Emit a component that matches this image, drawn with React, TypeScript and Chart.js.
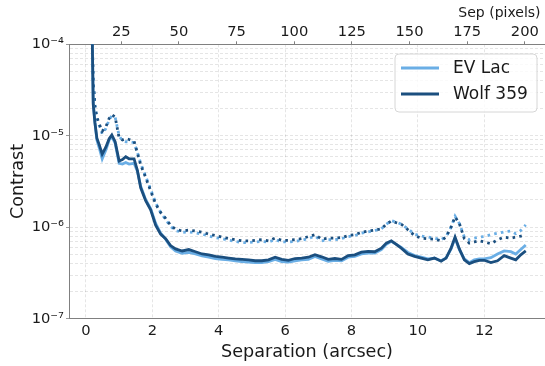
import React, { useEffect, useRef } from "react";
import { Chart, registerables } from "chart.js";

Chart.register(...registerables);

const FONT = "'DejaVu Sans', sans-serif";

// Separation (arcsec) sample positions shared by all curves
const separation = [
  0.19, 0.22, 0.27, 0.33, 0.4, 0.49, 0.6, 0.7, 0.78, 0.88, 1.0,
  1.1, 1.2, 1.3, 1.45, 1.55, 1.65, 1.8, 1.95,
  2.1, 2.25, 2.4, 2.55, 2.7, 2.9,
  3.1, 3.3, 3.5, 3.7, 3.9, 4.1, 4.3, 4.5, 4.7, 4.9, 5.1, 5.3, 5.5, 5.7, 5.9,
  6.1, 6.3, 6.5, 6.7, 6.9, 7.1, 7.3, 7.5, 7.7, 7.9, 8.1, 8.3, 8.5, 8.7, 8.9,
  9.05, 9.2, 9.35, 9.5, 9.7, 9.9,
  10.1, 10.3, 10.5, 10.7, 10.85,
  11.0, 11.12, 11.25, 11.4, 11.55, 11.7, 11.85,
  12.0, 12.2, 12.4, 12.6, 12.8, 12.95, 13.1, 13.25,
];

// EV Lac solid curve
const evLacSolid = [
  1.2e-4, 2.3e-5, 1.4e-5, 9.0e-6, 7.4e-6, 5.6e-6, 7.0e-6, 9.0e-6, 9.8e-6, 8.3e-6, 5.0e-6,
  4.9e-6, 5.1e-6, 4.9e-6, 5.0e-6, 4.1e-6, 2.8e-6, 2.0e-6, 1.6e-6,
  1.1e-6, 8.6e-7, 7.4e-7, 6.1e-7, 5.5e-7, 5.2e-7,
  5.3e-7, 5.1e-7, 4.85e-7, 4.7e-7, 4.55e-7, 4.45e-7, 4.4e-7, 4.3e-7, 4.2e-7, 4.15e-7, 4.1e-7, 4.1e-7, 4.2e-7, 4.45e-7, 4.2e-7,
  4.15e-7, 4.3e-7, 4.4e-7, 4.45e-7, 4.8e-7, 4.5e-7, 4.25e-7, 4.35e-7, 4.3e-7, 4.7e-7, 4.8e-7, 5.1e-7, 5.2e-7, 5.2e-7, 5.7e-7,
  6.5e-7, 7.0e-7, 6.5e-7, 6.0e-7, 5.3e-7, 4.9e-7,
  4.7e-7, 4.5e-7, 4.6e-7, 4.3e-7, 4.6e-7,
  5.8e-7, 7.6e-7, 5.7e-7, 4.5e-7, 4.1e-7, 4.4e-7, 4.5e-7,
  4.5e-7, 4.65e-7, 5.1e-7, 5.5e-7, 5.4e-7, 5.1e-7, 5.7e-7, 6.4e-7,
];

// Wolf 359 solid curve
const wolfSolid = [
  1.2e-4, 2.2e-5, 1.4e-5, 9.4e-6, 8.0e-6, 6.3e-6, 7.5e-6, 9.3e-6, 1.02e-5, 8.6e-6, 5.3e-6,
  5.5e-6, 5.9e-6, 5.6e-6, 5.6e-6, 4.2e-6, 2.7e-6, 1.95e-6, 1.55e-6,
  1.05e-6, 8.4e-7, 7.5e-7, 6.3e-7, 5.8e-7, 5.5e-7,
  5.7e-7, 5.4e-7, 5.1e-7, 5.0e-7, 4.8e-7, 4.7e-7, 4.6e-7, 4.5e-7, 4.45e-7, 4.4e-7, 4.3e-7, 4.3e-7, 4.4e-7, 4.7e-7, 4.45e-7,
  4.35e-7, 4.55e-7, 4.6e-7, 4.7e-7, 5.0e-7, 4.75e-7, 4.45e-7, 4.55e-7, 4.45e-7, 4.9e-7, 5.0e-7, 5.35e-7, 5.45e-7, 5.4e-7, 5.9e-7,
  6.7e-7, 7.1e-7, 6.5e-7, 5.9e-7, 5.1e-7, 4.8e-7,
  4.6e-7, 4.4e-7, 4.6e-7, 4.25e-7, 4.6e-7,
  5.9e-7, 7.8e-7, 5.8e-7, 4.4e-7, 4.0e-7, 4.2e-7, 4.35e-7,
  4.35e-7, 4.1e-7, 4.3e-7, 4.9e-7, 4.6e-7, 4.4e-7, 5.0e-7, 5.5e-7,
];

// EV Lac dotted curve
const evLacDotted = [
  1.2e-4, 4.0e-5, 2.2e-5, 1.55e-5, 1.3e-5, 1.05e-5, 1.2e-5, 1.5e-5, 1.65e-5, 1.6e-5, 1.0e-5,
  8.8e-6, 8.6e-6, 8.6e-6, 8.4e-6, 6.6e-6, 5.0e-6, 3.6e-6, 2.6e-6,
  1.85e-6, 1.45e-6, 1.22e-6, 1.02e-6, 9.2e-7, 8.8e-7,
  8.9e-7, 8.7e-7, 8.4e-7, 8.0e-7, 7.7e-7, 7.5e-7, 7.2e-7, 7.0e-7, 6.8e-7, 6.8e-7, 6.9e-7, 7.0e-7, 6.9e-7, 7.3e-7, 6.9e-7,
  6.9e-7, 7.0e-7, 7.2e-7, 7.5e-7, 8.0e-7, 7.1e-7, 7.3e-7, 7.3e-7, 7.5e-7, 7.9e-7, 8.1e-7, 8.6e-7, 8.9e-7, 9.2e-7, 9.6e-7,
  1.08e-6, 1.18e-6, 1.14e-6, 1.08e-6, 9.6e-7, 8.4e-7,
  8.0e-7, 7.8e-7, 7.6e-7, 7.3e-7, 7.9e-7,
  1.0e-6, 1.32e-6, 1.1e-6, 7.8e-7, 7.3e-7, 7.6e-7, 7.8e-7,
  7.9e-7, 8.3e-7, 8.6e-7, 8.9e-7, 9.1e-7, 8.5e-7, 9.2e-7, 1.06e-6,
];

// Wolf 359 dotted curve
const wolfDotted = [
  1.2e-4, 4.0e-5, 2.1e-5, 1.6e-5, 1.35e-5, 1.12e-5, 1.25e-5, 1.55e-5, 1.7e-5, 1.6e-5, 9.5e-6,
  9.0e-6, 9.3e-6, 9.1e-6, 8.7e-6, 6.5e-6, 4.8e-6, 3.5e-6, 2.5e-6,
  1.8e-6, 1.45e-6, 1.25e-6, 1.05e-6, 9.5e-7, 9.1e-7,
  9.3e-7, 9.1e-7, 8.8e-7, 8.4e-7, 8.1e-7, 7.8e-7, 7.5e-7, 7.3e-7, 7.1e-7, 7.1e-7, 7.2e-7, 7.3e-7, 7.1e-7, 7.6e-7, 7.2e-7,
  7.2e-7, 7.3e-7, 7.5e-7, 7.9e-7, 8.3e-7, 7.4e-7, 7.6e-7, 7.6e-7, 7.7e-7, 8.1e-7, 8.3e-7, 8.8e-7, 9.1e-7, 9.3e-7, 9.6e-7,
  1.08e-6, 1.17e-6, 1.12e-6, 1.08e-6, 9.4e-7, 8.1e-7,
  7.6e-7, 7.5e-7, 7.4e-7, 7.1e-7, 7.8e-7,
  1.0e-6, 1.3e-6, 1.1e-6, 7.5e-7, 6.7e-7, 6.9e-7, 7.1e-7,
  6.9e-7, 6.6e-7, 7.3e-7, 7.8e-7, 7.6e-7, 7.8e-7, 8.0e-7, 8.3e-7,
];

const seriesNames = ["EV Lac", "Wolf 359"];
const seriesColors = ["#6aaee5", "#1b4f7f"];

const bottomTicks = [0, 2, 4, 6, 8, 10, 12];
const topTicks = [25, 50, 75, 100, 125, 150, 175, 200];
const yDecades = [-7, -6, -5, -4];
const yMinorSteps = [2, 3, 4, 5, 6, 7, 8, 9];

const SUP: Record<string, string> = {
  "-": "\u207B", "0": "\u2070", "1": "\u00B9", "2": "\u00B2", "3": "\u00B3",
  "4": "\u2074", "5": "\u2075", "6": "\u2076", "7": "\u2077", "8": "\u2078", "9": "\u2079",
};
const supText = (n: number) => String(n).split("").map((c) => SUP[c] || c).join("");

const pts = (ys: number[]) => separation.map((x, i) => ({ x, y: ys[i] }));

const isDecade = (v: number) => Math.abs(Math.log10(v) - Math.round(Math.log10(v))) < 1e-6;

const legendPlugin = {
  id: "customLegend",
  afterDatasetsDraw(chart: any) {
    const ctx = chart.ctx;
    const bx = 395, by = 54, bw = 142, bh = 58, r = 4;
    ctx.save();
    ctx.beginPath();
    ctx.moveTo(bx + r, by);
    ctx.lineTo(bx + bw - r, by);
    ctx.quadraticCurveTo(bx + bw, by, bx + bw, by + r);
    ctx.lineTo(bx + bw, by + bh - r);
    ctx.quadraticCurveTo(bx + bw, by + bh, bx + bw - r, by + bh);
    ctx.lineTo(bx + r, by + bh);
    ctx.quadraticCurveTo(bx, by + bh, bx, by + bh - r);
    ctx.lineTo(bx, by + r);
    ctx.quadraticCurveTo(bx, by, bx + r, by);
    ctx.closePath();
    ctx.fillStyle = "rgba(255,255,255,0.8)";
    ctx.fill();
    ctx.strokeStyle = "#d6d6d6";
    ctx.lineWidth = 1;
    ctx.stroke();
    const rows = [68, 94];
    seriesNames.forEach((name, i) => {
      ctx.beginPath();
      ctx.moveTo(401, rows[i]);
      ctx.lineTo(439, rows[i]);
      ctx.strokeStyle = seriesColors[i];
      ctx.lineWidth = 3;
      ctx.stroke();
      ctx.fillStyle = "#1a1a1a";
      ctx.font = `17px ${FONT}`;
      ctx.textBaseline = "middle";
      ctx.textAlign = "left";
      ctx.fillText(name, 453, rows[i] + 1);
    });
    ctx.restore();
  },
};

export default function App() {
  const ref = useRef<HTMLCanvasElement | null>(null);

  useEffect(() => {
    if (!ref.current) return;
    const gridColor = "rgba(0,0,0,0.13)";
    const spine = "#808080";
    const textColor = "#1a1a1a";
    const chart = new Chart(ref.current, {
      type: "line",
      data: {
        datasets: [
          {
            label: seriesNames[0],
            data: pts(evLacSolid),
            borderColor: seriesColors[0],
            borderWidth: 2.8,
            pointRadius: 0,
            order: 1,
          },
          {
            label: seriesNames[1],
            data: pts(wolfSolid),
            borderColor: seriesColors[1],
            borderWidth: 2.8,
            pointRadius: 0,
            order: 0,
          },
          {
            label: seriesNames[0] + " (dotted)",
            data: pts(evLacDotted),
            borderColor: seriesColors[0],
            borderWidth: 2.8,
            borderDash: [2.6, 4.2],
            pointRadius: 0,
            order: 3,
          },
          {
            label: seriesNames[1] + " (dotted)",
            data: pts(wolfDotted),
            borderColor: seriesColors[1],
            borderWidth: 2.8,
            borderDash: [2.6, 4.2],
            pointRadius: 0,
            order: 2,
          },
        ],
      },
      options: {
        animation: false,
        responsive: false,
        devicePixelRatio: 1,
        layout: { padding: 0 },
        plugins: { legend: { display: false }, tooltip: { enabled: false } },
        scales: {
          x: {
            type: "linear",
            position: "bottom",
            min: -0.51,
            max: 13.83,
            afterBuildTicks: (s: any) => {
              s.ticks = bottomTicks.map((v) => ({ value: v }));
            },
            afterFit: (s: any) => {
              s.height = 366 - 318.7;
            },
            grid: { color: gridColor, lineWidth: 0.8, drawTicks: false },
            border: { color: spine, width: 1, dash: [3, 2] },
            ticks: {
              font: { family: FONT, size: 14.7 },
              color: textColor,
              padding: 4,
              maxRotation: 0,
              callback: (v: any) => String(v),
            },
            title: {
              display: true,
              text: "Separation (arcsec)",
              font: { family: FONT, size: 17.6 },
              color: textColor,
              padding: { top: 0, bottom: 3 },
            },
          },
          x2: {
            type: "linear",
            axis: "x",
            position: "top",
            min: 2.32,
            max: 208.76,
            afterBuildTicks: (s: any) => {
              s.ticks = topTicks.map((v) => ({ value: v }));
            },
            afterFit: (s: any) => {
              s.height = 44.3;
            },
            grid: { drawOnChartArea: false, drawTicks: true, tickLength: 3, tickColor: spine, tickWidth: 1 },
            border: { color: spine, width: 1 },
            ticks: {
              font: { family: FONT, size: 14.7 },
              color: textColor,
              padding: 0,
              maxRotation: 0,
              callback: (v: any) => String(v),
            },
            title: {
              display: true,
              text: "Sep (pixels) ",
              align: "end",
              font: { family: FONT, size: 14 },
              color: textColor,
              padding: { top: 4.6, bottom: 0 },
            },
          },
          y: {
            type: "logarithmic",
            min: 1e-7,
            max: 1e-4,
            afterBuildTicks: (s: any) => {
              const t: { value: number }[] = [];
              yDecades.forEach((e) => {
                t.push({ value: Math.pow(10, e) });
                if (e < -4) yMinorSteps.forEach((m) => t.push({ value: m * Math.pow(10, e) }));
              });
              s.ticks = t;
            },
            afterFit: (s: any) => {
              s.width = 69;
            },
            grid: {
              color: gridColor,
              lineWidth: 0.8,
              drawTicks: true,
              tickLength: 3,
              tickColor: (c: any) => (c.tick && isDecade(c.tick.value) ? spine : "rgba(0,0,0,0)"),
            },
            border: { color: spine, width: 1, dash: [3, 2] },
            ticks: {
              font: { family: FONT, size: 14.7 },
              color: textColor,
              padding: 2,
              autoSkip: false,
              callback: (v: any) => (isDecade(v) ? "10" + supText(Math.round(Math.log10(v))) : ""),
            },
            title: {
              display: true,
              text: "Contrast",
              font: { family: FONT, size: 17.6 },
              color: textColor,
              padding: { top: 7.5, bottom: 0 },
            },
          },
        },
      },
      plugins: [legendPlugin],
    } as any);
    return () => chart.destroy();
  }, []);

  return (
    <div style={{ position: "absolute", left: 0, top: 0, width: 545, height: 366, background: "#fff" }}>
      <canvas ref={ref} width={545} height={366} style={{ display: "block", width: 545, height: 366 }} />
    </div>
  );
}
